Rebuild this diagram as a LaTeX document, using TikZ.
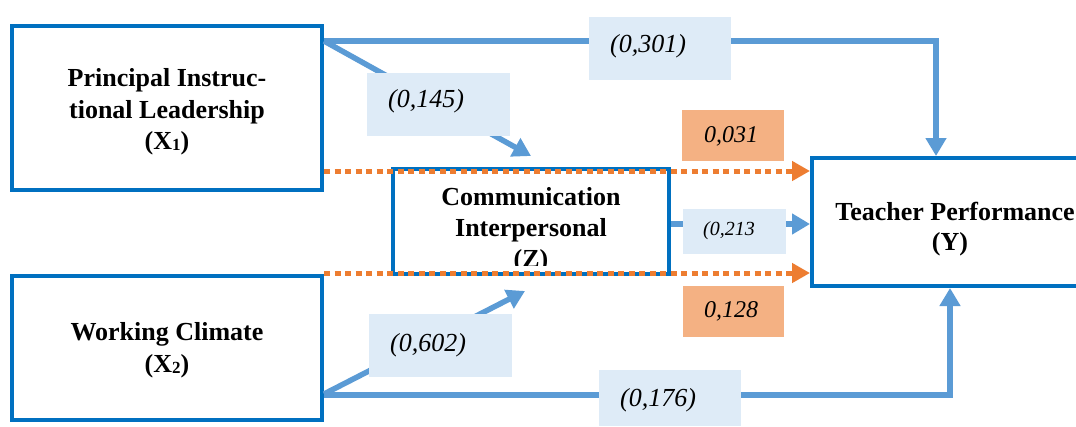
\documentclass[tikz,border=0pt]{standalone}
\usepackage{fontspec}
\setmainfont{Liberation Serif}
\usetikzlibrary{arrows.meta}
\definecolor{boxblue}{RGB}{0,112,192}
\definecolor{connblue}{RGB}{91,155,213}
\definecolor{dotorange}{RGB}{237,125,49}
\definecolor{labblue}{RGB}{222,235,247}
\definecolor{laborange}{RGB}{244,177,131}
\newcommand{\subdig}[1]{\raisebox{-1pt}{\fontsize{17}{17}\selectfont #1}}
\tikzset{
  varbox/.style={draw=boxblue, line width=4pt, fill=white, inner sep=0pt},
  vartext/.style={font=\bfseries\fontsize{26}{31}\selectfont, align=center, inner sep=0pt},
  conn/.style={draw=connblue, line width=5.5pt, -{Triangle[length=18pt,width=20pt]}},
  indirect/.style={draw=dotorange, line width=5pt, dash pattern=on 6pt off 4.5pt,
                   -{Triangle[length=18pt,width=19pt]}},
  labbox/.style={fill=labblue, inner sep=0pt},
  orbox/.style={fill=laborange, inner sep=0pt},
  labtext/.style={font=\itshape\fontsize{26}{30}\selectfont, inner sep=0pt, anchor=west},
}
\begin{document}
\begin{tikzpicture}[x=1pt, y=-1pt]
\useasboundingbox (0,0) rectangle (1076,426);
\clip (0,0) rectangle (1076,426);
\fill[white] (0,0) rectangle (1076,426);

% variable boxes
\node[varbox, minimum width=310, minimum height=164] (x1) at (167,108) {};
\node[varbox, minimum width=310, minimum height=144] (x2) at (167,348) {};
\node[varbox, minimum width=276, minimum height=105] (z) at (531,221.5) {};
\node[varbox, minimum width=276, minimum height=128] (y) at (950,222) {};

% box texts
\node[vartext, font=\bfseries\fontsize{26}{31.5}\selectfont] (x1t) at (167,112)
  {Principal Instruc-\\tional Leadership\\(X\subdig{1})};
\node[vartext, font=\bfseries\fontsize{26}{32}\selectfont] (x2t) at (167,350)
  {Working Climate\\(X\subdig{2})};
\node[vartext, font=\bfseries\fontsize{26}{30}\selectfont] (yt) at (955,229)
  {Teacher Performance\\[0pt]\hspace*{-10pt}(Y)};
\begin{scope}
  \clip (395,171) rectangle (667,265);
  \node[vartext, anchor=north] (zt) at (531,187)
    {Communication\\Interpersonal\\(Z)};
\end{scope}

% direct paths
\draw[conn] ([yshift=-17pt]x1.north east) -| ([xshift=126pt]y.north west);
\draw[conn] ([yshift=-17pt]x1.north east) -- ([xshift=140pt,yshift=11pt]z.north west);
\draw[conn] ([yshift=28pt]x2.south east) -- ([xshift=134pt,yshift=-15pt]z.south west);
\draw[conn] ([yshift=27pt]x2.south east) -| (y.south);
\draw[conn] ([yshift=-2.5pt]z.east) -- ([yshift=-2.5pt]z.east -| y.west);

% indirect paths
\draw[indirect] ([yshift=21pt]x1.south east) -- ([yshift=21pt]x1.south east -| y.west);
\draw[indirect] ([yshift=1pt]x2.north east) -- ([yshift=1pt]x2.north east -| y.west);

% coefficient labels
\node[labbox, minimum width=142, minimum height=63, anchor=north west] (b301) at (589,17) {};
\node[labtext] (t301) at ([xshift=21pt,yshift=2pt]b301.west) {(0,301)};
\node[labbox, minimum width=143, minimum height=63, anchor=north west] (b145) at (367,73) {};
\node[labtext] (t145) at ([xshift=21pt,yshift=3pt]b145.west) {(0,145)};
\node[orbox, minimum width=102, minimum height=51, anchor=north west] (b031) at (682,110) {};
\node[labtext, font=\itshape\fontsize{24}{30}\selectfont] (t031) at ([xshift=22pt,yshift=-1pt]b031.west) {0,031};
\node[labbox, minimum width=103, minimum height=45, anchor=north west] (b213) at (683,209) {};
\node[labtext, font=\itshape\fontsize{20}{24}\selectfont] (t213) at ([xshift=20pt,yshift=1pt]b213.west) {(0,213};
\node[orbox, minimum width=101, minimum height=51, anchor=north west] (b128) at (683,286) {};
\node[labtext, font=\itshape\fontsize{24}{30}\selectfont] (t128) at ([xshift=21pt]b128.west) {0,128};
\node[labbox, minimum width=143, minimum height=63, anchor=north west] (b602) at (369,314) {};
\node[labtext] (t602) at ([xshift=21pt]b602.west) {(0,602)};
\node[labbox, minimum width=142, minimum height=56, anchor=north west] (b176) at (599,370) {};
\node[labtext] (t176) at ([xshift=21pt,yshift=-2pt]b176.west) {(0,176)};
\end{tikzpicture}
\end{document}
